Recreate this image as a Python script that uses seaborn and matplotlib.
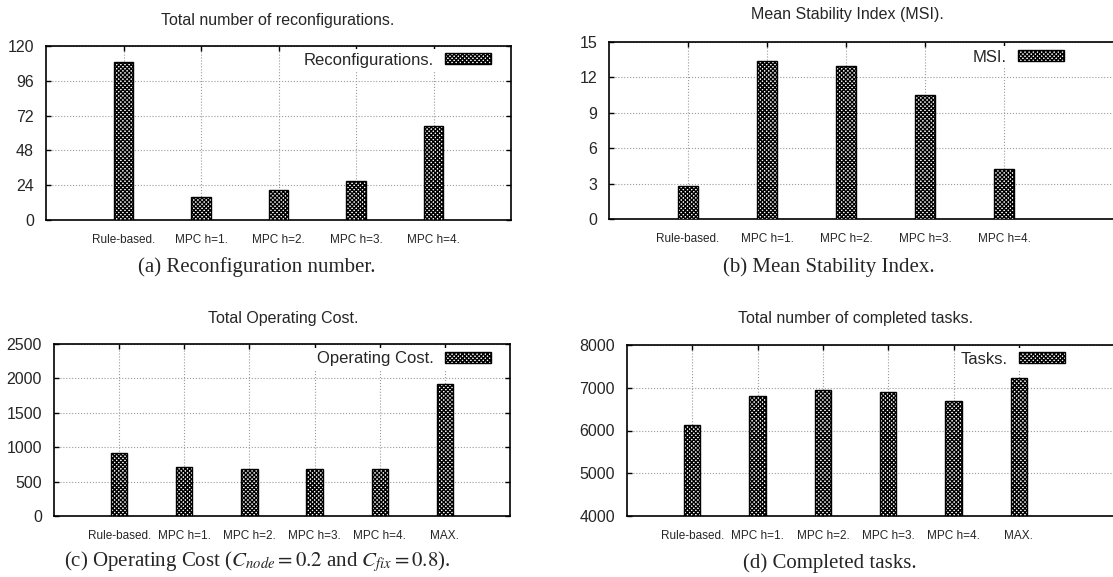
import matplotlib
matplotlib.use('Agg')
import matplotlib.pyplot as plt
import seaborn as sns
import pandas as pd

# ---------------- data ----------------
labels5 = ["Rule-based.", "MPC h=1.", "MPC h=2.", "MPC h=3.", "MPC h=4."]
labels6 = ["Rule-based.", "MPC h=1.", "MPC h=2.", "MPC h=3.", "MPC h=4.", "MAX."]
reconfigs = [109, 16, 21, 27, 65]
msi = [2.8, 13.4, 13.0, 10.5, 4.2]
cost = [910, 705, 676, 676, 690, 1916]
tasks = [6140, 6800, 6945, 6900, 6700, 7227]

titles = ["Total number of reconfigurations.", "Mean Stability Index (MSI).",
          "Total Operating Cost.", "Total number of completed tasks."]
legends = ["Reconfigurations.", "MSI.", "Operating Cost.", "Tasks."]
captions = ["(a) Reconfiguration number.", "(b) Mean Stability Index.",
            r"(c) Operating Cost ($C_{node} = 0.2$ and $C_{fix} = 0.8$).",
            "(d) Completed tasks."]
yticks_a = [0, 24, 48, 72, 96, 120]
yticks_b = [0, 3, 6, 9, 12, 15]
yticks_c = [0, 500, 1000, 1500, 2000, 2500]
yticks_d = [4000, 5000, 6000, 7000, 8000]

# ---------------- style ----------------
sns.set_style('white')
plt.rcParams['font.family'] = ['Liberation Sans', 'DejaVu Sans']
plt.rcParams['mathtext.fontset'] = 'stix'
plt.rcParams['hatch.linewidth'] = 1.0

W, H = 1113, 577
fig = plt.figure(figsize=(W / 100, H / 100), dpi=100)


def px_axes(l, t, r, b):
    return fig.add_axes([l / W, 1 - b / H, (r - l) / W, (b - t) / H])


layout = [
    dict(box=(46, 46, 511, 220), xlim=(-1, 5), tpos=(278, 20), cpos=(257, 267), lpos=(494.5, 60)),
    dict(box=(609, 42, 609 + 6.5 * 79, 219), xlim=(-1, 5.5), tpos=(847, 15), cpos=(829, 267), lpos=(1067, 57)),
    dict(box=(54, 344, 510, 516), xlim=(-1, 6), tpos=(283, 318), cpos=(257, 562), lpos=(494.5, 359)),
    dict(box=(627, 345, 627 + 7.6 * 65.3, 516), xlim=(-1, 6.6), tpos=(856, 318), cpos=(830, 563), lpos=(1068, 359)),
]
datasets = [(labels5, reconfigs, yticks_a), (labels5, msi, yticks_b),
            (labels6, cost, yticks_c), (labels6, tasks, yticks_d)]

for i, (lay, (labs, vals, yt)) in enumerate(zip(layout, datasets)):
    ax = px_axes(*lay['box'])
    df = pd.DataFrame({'cat': labs, 'val': vals})
    sns.barplot(data=df, x='cat', y='val', ax=ax, width=0.25, color='white',
                saturation=1, edgecolor='black', linewidth=1.0, hatch='xxxxxxxx',
                errorbar=None, zorder=3)
    ax.set_xlim(*lay['xlim'])
    ax.set_ylim(yt[0], yt[-1])
    ax.set_yticks(yt)
    ax.set_xlabel('')
    ax.set_ylabel('')
    ax.set_axisbelow(True)
    ax.grid(True, linestyle=':', color='#9a9a9a', linewidth=0.8)
    for s in ax.spines.values():
        s.set_visible(True)
        s.set_color('black')
        s.set_linewidth(1.2)
    ax.tick_params(axis='both', direction='in', length=3.6, width=1.0, color='black',
                   top=True, right=True, bottom=True, left=True)
    ax.tick_params(axis='x', labelsize=8.5, pad=10)
    ax.tick_params(axis='y', labelsize=11.5, pad=8.6)
    ax.legend(handles=[ax.patches[0]], labels=[legends[i]], loc='center right',
              bbox_to_anchor=(lay['lpos'][0] / W, 1 - lay['lpos'][1] / H),
              bbox_transform=fig.transFigure, markerfirst=False, frameon=True,
              facecolor='white', edgecolor='none', framealpha=1, fancybox=False,
              borderpad=0.2, handlelength=2.75, handleheight=0.6,
              handletextpad=0.7, fontsize=12, borderaxespad=0)
    fig.text(lay['tpos'][0] / W, 1 - lay['tpos'][1] / H, titles[i],
             ha='center', va='center', fontsize=11.5)
    fig.text(lay['cpos'][0] / W, 1 - lay['cpos'][1] / H, captions[i],
             ha='center', va='center', fontsize=15, family='Liberation Serif')

fig.savefig('out.png', dpi=100)
